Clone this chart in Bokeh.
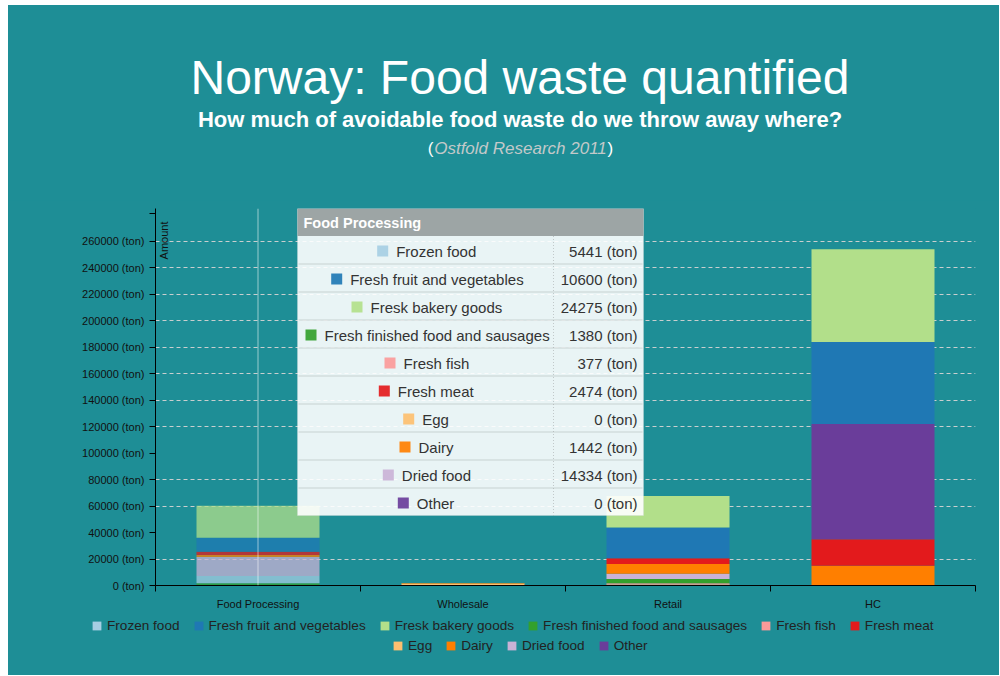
import math
from bokeh.plotting import figure
from bokeh.layouts import column, row
from bokeh.models import (ColumnDataSource, FixedTicker, PrintfTickFormatter, Range1d,
                          Label, BoxAnnotation, Span, Legend, LegendItem,
                          CustomJSTickFormatter, Spacer)
from bokeh.embed import file_html
from bokeh.resources import INLINE

# ---------------- data ----------------
categories = ["Food Processing", "Wholesale", "Retail", "HC"]
series = ["Frozen food", "Fresh fruit and vegetables", "Fresk bakery goods",
          "Fresh finished food and sausages", "Fresh fish", "Fresh meat",
          "Egg", "Dairy", "Dried food", "Other"]
frozen_food = [5441, 0, 0, 0]
fresh_fruit = [10600, 0, 23400, 62000]
bakery_goods = [24275, 0, 23700, 70000]
finished_food = [1380, 0, 3300, 0]
fresh_fish = [377, 0, 1000, 0]
fresh_meat = [2474, 0, 4200, 20000]
egg = [0, 1500, 700, 0]
dairy = [1442, 300, 7500, 15000]
dried_food = [14334, 0, 3800, 0]
other = [0, 0, 0, 87000]
series_values = [frozen_food, fresh_fruit, bakery_goods, finished_food, fresh_fish,
                 fresh_meat, egg, dairy, dried_food, other]
colors = ["#a6cee3", "#1f78b4", "#b2df8a", "#33a02c", "#fb9a99",
          "#e31a1c", "#fdbf6f", "#ff7f00", "#cab2d6", "#6a3d9a"]
stack_order = ["Egg", "Fresh fish", "Fresh finished food and sausages", "Frozen food",
               "Dried food", "Dairy", "Fresh meat", "Other",
               "Fresh fruit and vegetables", "Fresk bakery goods"]
y_ticks = list(range(0, 260001, 20000))
grid_ticks = [20000, 60000, 80000, 120000, 140000, 160000, 180000,
              200000, 220000, 240000, 260000]
hovered = "Food Processing"
title = "Norway: Food waste quantified"
subtitle = "How much of avoidable food waste do we throw away where?"
source_note = "Ostfold Research 2011"

# ---------------- layout constants (page coordinates) ----------------
BG = "#1e8e96"
FONT = "Liberation Sans"
OX, OY = 8, 5                   # white page strip left / top of the chart
W = 991                         # canvas width
HEAD_B_PAGE = 200               # header canvas: page y OY..200
FRAME_L, FRAME_R = 155, 975     # page x of plot frame
FRAME_T, FRAME_B = 208, 585     # page y of plot frame
MAIN_B = 612                    # main canvas bottom (page y)
PAGE_B = 675                    # footer canvas bottom (page y)
PX_PER_TON = 372.0 / 281000.0
Y_END = (FRAME_B - FRAME_T) / PX_PER_TON
Y_AXIS_TOP = (FRAME_B - 213) / PX_PER_TON
BORDER_L = FRAME_L - OX
BORDER_R = (OX + W) - FRAME_R


def fx(X):
    return X - FRAME_L


def no_align(f):
    try:
        f.frame_align = False
    except Exception:
        pass


# ---------------- header (frame spans the chart frame's width) ----------------
head = figure(width=W, height=HEAD_B_PAGE - OY, output_backend="svg",
              toolbar_location=None, x_range=Range1d(0, 1), y_range=Range1d(0, 1),
              x_axis_type=None, y_axis_type=None,
              min_border_left=BORDER_L, min_border_right=BORDER_R,
              min_border_top=0, min_border_bottom=0,
              background_fill_color=BG, border_fill_color=BG, outline_line_color=None)
head.grid.visible = False

def hy(Y):
    return HEAD_B_PAGE - Y

def hlabel(X, Y, text, **kw):
    props = dict(text_align="center", text_baseline="middle", text_font=FONT,
                 text_color="white")
    props.update(kw)
    head.add_layout(Label(x=fx(X), y=hy(Y), x_units="screen", y_units="screen",
                          text=text, **props))

hlabel(519.5, 76.5, title, text_font_size="48px")
hlabel(519.5, 119, subtitle, text_font_size="22px", text_font_style="bold")
hlabel(520, 148, source_note, text_font_size="17px", text_font_style="italic",
       text_color="#c3c9c9")
hlabel(433, 148, "(", text_font_size="17px", text_align="right")
hlabel(607, 148, ")", text_font_size="17px", text_align="left")

# ---------------- main chart ----------------
p = figure(width=W, height=MAIN_B - HEAD_B_PAGE, output_backend="svg",
           toolbar_location=None,
           x_range=Range1d(0, len(categories)), y_range=Range1d(0, Y_END),
           min_border_left=BORDER_L, min_border_right=BORDER_R,
           min_border_top=FRAME_T - HEAD_B_PAGE, min_border_bottom=MAIN_B - FRAME_B,
           background_fill_color=BG, border_fill_color=BG, outline_line_color=None)

def fy(Y):
    return FRAME_B - Y

keys = ["s%d" % i for i in range(len(series))]
data = {k: v for k, v in zip(keys, series_values)}
data["x"] = [i + 0.5 for i in range(len(categories))]
data["alpha"] = [0.75 if c == hovered else 1.0 for c in categories]
src = ColumnDataSource(data)

stack_keys = [keys[series.index(s)] for s in stack_order]
stack_cols = [colors[series.index(s)] for s in stack_order]
p.vbar_stack(stack_keys, x="x", width=0.6, source=src,
             fill_color=stack_cols, line_color=None, fill_alpha="alpha")

# grid
p.xgrid.visible = False
p.ygrid.ticker = FixedTicker(ticks=grid_ticks)
p.ygrid.grid_line_color = "#c9cfcf"
p.ygrid.grid_line_dash = "4 3"
p.ygrid.grid_line_width = 1

# axes
yax = p.yaxis[0]
yax.ticker = FixedTicker(ticks=y_ticks, minor_ticks=[Y_AXIS_TOP])
yax.formatter = PrintfTickFormatter(format="%d (ton)")
yax.major_label_text_font = FONT
yax.major_label_text_font_size = "11px"
yax.major_label_text_color = "#111111"
yax.axis_line_color = "black"
yax.major_tick_line_color = "black"
yax.minor_tick_line_color = "black"
yax.major_tick_out = 6
yax.major_tick_in = 0
yax.minor_tick_out = 6
yax.minor_tick_in = 0
yax.major_label_standoff = 5

xax = p.xaxis[0]
xax.ticker = FixedTicker(ticks=data["x"], minor_ticks=list(range(len(categories) + 1)))
xax.formatter = CustomJSTickFormatter(args=dict(labels=categories),
                                      code="return labels[Math.floor(tick)];")
xax.major_label_text_font = FONT
xax.major_label_text_font_size = "11px"
xax.major_label_text_color = "#111111"
xax.axis_line_color = "black"
xax.major_tick_out = 0
xax.major_tick_in = 0
xax.minor_tick_line_color = "black"
xax.minor_tick_out = 6
xax.minor_tick_in = 0
xax.major_label_standoff = 6

# axis title "Amount"
p.add_layout(Label(x=fx(163), y=fy(221), x_units="screen", y_units="screen",
                   text="Amount", angle=math.pi / 2, text_align="right",
                   text_baseline="alphabetic", text_font=FONT,
                   text_font_size="11px", text_color="#111111"))

# hover crosshair on hovered category
hi = categories.index(hovered)
p.add_layout(Span(location=data["x"][hi], dimension="height", line_color="white",
                  line_alpha=0.55, line_width=1))

# tooltip box
TL, TR, TT, TB = 297, 643, 208, 515
HEAD_B = 235.5
ROW_H = 28
COL_X = 553

def box(l, r, t, b, **kw):
    props = dict(fill_color=None, fill_alpha=0, line_color=None)
    props.update(kw)
    return BoxAnnotation(left=fx(l), right=fx(r), top=fy(t), bottom=fy(b),
                         left_units="screen", right_units="screen",
                         top_units="screen", bottom_units="screen", **props)

p.add_layout(box(TL, TR, TT, TB, fill_color="white", fill_alpha=0.9,
                 line_color="#d5dcdc", line_width=1))
p.add_layout(box(TL, TR, TT, HEAD_B, fill_color="#9aa2a2", fill_alpha=0.97))
for k in range(len(series) - 1):
    yy = HEAD_B + ROW_H * (k + 1)
    p.add_layout(box(TL + 1, TR - 1, yy - 0.5, yy + 0.5, fill_color="#c8d2d2",
                     fill_alpha=1))
p.add_layout(box(COL_X, COL_X, HEAD_B, TB, line_color="#9aa0a0",
                 line_dash="1 2", line_width=1))
p.add_layout(Label(x=fx(303), y=fy(222), x_units="screen", y_units="screen",
                   text=hovered, text_align="left", text_baseline="middle",
                   text_font=FONT, text_font_size="14.5px", text_font_style="bold",
                   text_color="white"))

tip_swatch_x = [376.7, 330.7, 351, 305, 384, 378.3, 402.7, 399, 382.3, 397.3]
for i, name in enumerate(series):
    cy = HEAD_B + ROW_H * i + ROW_H / 2 + 1
    sx = tip_swatch_x[i]
    p.add_layout(box(sx, sx + 11, cy - 5.5, cy + 5.5, fill_color=colors[i],
                     fill_alpha=0.92))
    p.add_layout(Label(x=fx(sx + 19), y=fy(cy), x_units="screen", y_units="screen",
                       text=name, text_align="left", text_baseline="middle",
                       text_font=FONT, text_font_size="15px", text_color="#333333"))
    p.add_layout(Label(x=fx(637), y=fy(cy), x_units="screen", y_units="screen",
                       text="%d (ton)" % series_values[i][hi], text_align="right",
                       text_baseline="middle", text_font=FONT,
                       text_font_size="15px", text_color="#333333"))

# ---------------- footer with legend (full-width frame) ----------------
foot = figure(width=W, height=PAGE_B - MAIN_B, output_backend="svg",
              toolbar_location=None, x_range=Range1d(0, 1), y_range=Range1d(0, 1),
              x_axis_type=None, y_axis_type=None, min_border=0,
              background_fill_color=BG, border_fill_color=BG, outline_line_color=None)
foot.grid.visible = False
no_align(foot)

def ly(Y):
    return PAGE_B - Y

# legend keys: swatch renderers kept outside the footer's visible range
swatch_rends = [foot.quad(left=[2], right=[3], bottom=[2], top=[3],
                          fill_color=c, line_color=None) for c in colors]
items = [LegendItem(label=s, renderers=[r]) for s, r in zip(series, swatch_rends)]

def make_legend(its, left, bottom):
    return Legend(items=its, location=(left - OX, ly(bottom)), orientation="horizontal",
                  label_text_font=FONT, label_text_font_size="13.6px",
                  label_text_color="#222222", glyph_width=11, glyph_height=11,
                  label_standoff=5, spacing=13, padding=0, margin=0,
                  label_height=14, label_width=10,
                  border_line_color=None, background_fill_alpha=0)

foot.add_layout(make_legend(items[:6], 91, 632.7))
foot.add_layout(make_legend(items[6:], 392, 653))

chart = column(head, p, foot, spacing=0, styles={"background-color": BG})
layout = column(Spacer(width=OX + W, height=OY),
                row(Spacer(width=OX, height=PAGE_B - OY), chart, spacing=0),
                spacing=0)
open("out.html", "w").write(file_html(layout, INLINE))
